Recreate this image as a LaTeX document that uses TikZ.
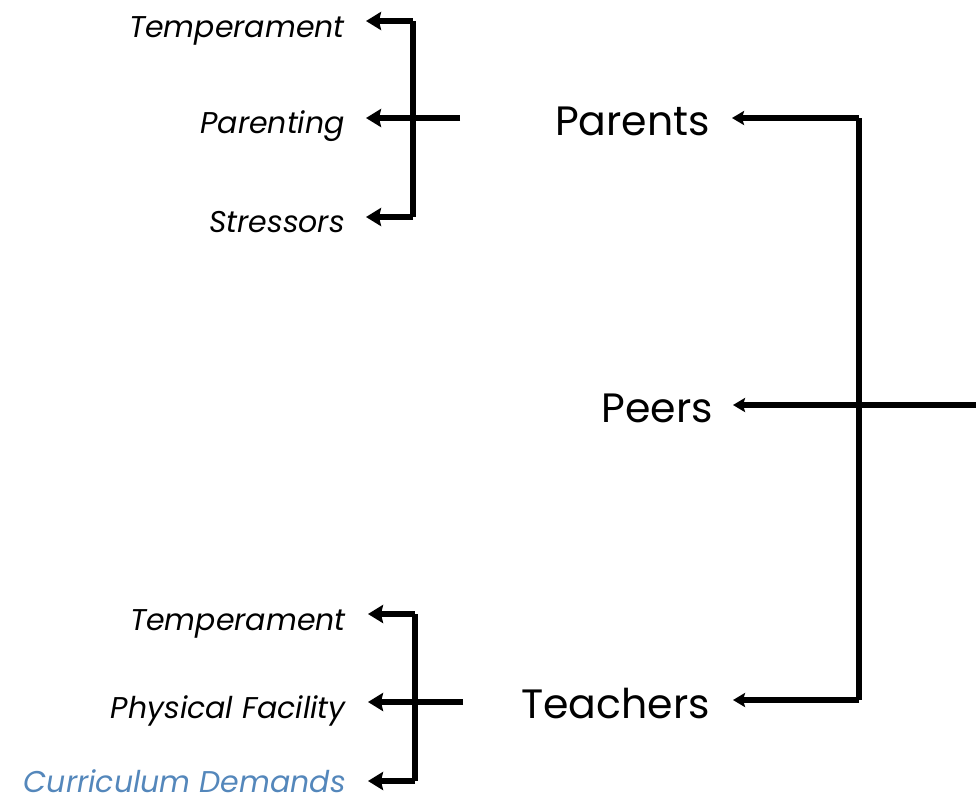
\documentclass[tikz,border=0pt]{standalone}
\usepackage{fontspec}
\setmainfont{Poppins}
\usetikzlibrary{arrows.meta}
\definecolor{curblue}{RGB}{84,135,187}
\begin{document}
\begin{tikzpicture}[x=1pt,y=-1pt,
  big/.style={anchor=base east,inner sep=0pt,font=\fontsize{41}{48}\selectfont},
  small/.style={anchor=base east,inner sep=0pt,font=\fontsize{30}{36}\selectfont\itshape},
  link/.style={line width=6pt,-{Stealth[length=15pt,width=18pt,inset=2pt]}},
  mainlink/.style={line width=6pt,-{Stealth[length=12pt,width=14pt,inset=2pt]}},
  bar/.style={line width=6pt}]
\useasboundingbox (0,0) rectangle (976,804);

% main labels
\node[big] (parents)  at (710,135) {Parents};
\node[big] (peers)    at (713,422) {Peers};
\node[big] (teachers) at (710,718) {Teachers};

% factors under parents
\node[small] (ptemp)   at (345,37)  {Temperament};
\node[small] (parenting) at (345,133) {Parenting};
\node[small] (stress)  at (345,232) {Stressors};

% factors under teachers
\node[small] (ttemp)   at (346,630) {Temperament};
\node[small] (phys)    at (346,718) {Physical Facility};
\node[small,text=curblue] (curr) at (346,792) {Curriculum Demands};

% arrow tips
\coordinate (tipA) at (366,21);
\coordinate (tipB) at (366,118);
\coordinate (tipC) at (366,217);
\coordinate (tipD) at (368,614);
\coordinate (tipE) at (368,702);
\coordinate (tipF) at (368,781);
\coordinate (tipP) at (732,118);
\coordinate (tipQ) at (733,405);
\coordinate (tipT) at (733,700);

% hubs and free ends
\coordinate (hubL1) at (413,118);
\coordinate (hubL2) at (415,702);
\coordinate (endL1) at (460,118);
\coordinate (endL2) at (463,702);
\coordinate (hubR) at (859,405);
\coordinate (endR) at (976,405);

% right-hand tree
\draw[mainlink] (hubR |- tipT) -- (tipT);
\draw[bar] (hubR |- tipP) -- (hubR |- tipT);
\draw[mainlink] (hubR |- tipP) -- (tipP);
\draw[mainlink] (endR) -- (tipQ);

% upper bracket
\draw[bar] (hubL1 |- tipA) -- (hubL1 |- tipC);
\draw[link] (hubL1 |- tipA) -- (tipA);
\draw[link] (hubL1 |- tipC) -- (tipC);
\draw[link] (endL1) -- (tipB);

% lower bracket
\draw[bar] (hubL2 |- tipD) -- (hubL2 |- tipF);
\draw[link] (hubL2 |- tipD) -- (tipD);
\draw[link] (hubL2 |- tipF) -- (tipF);
\draw[link] (endL2) -- (tipE);
\end{tikzpicture}
\end{document}
